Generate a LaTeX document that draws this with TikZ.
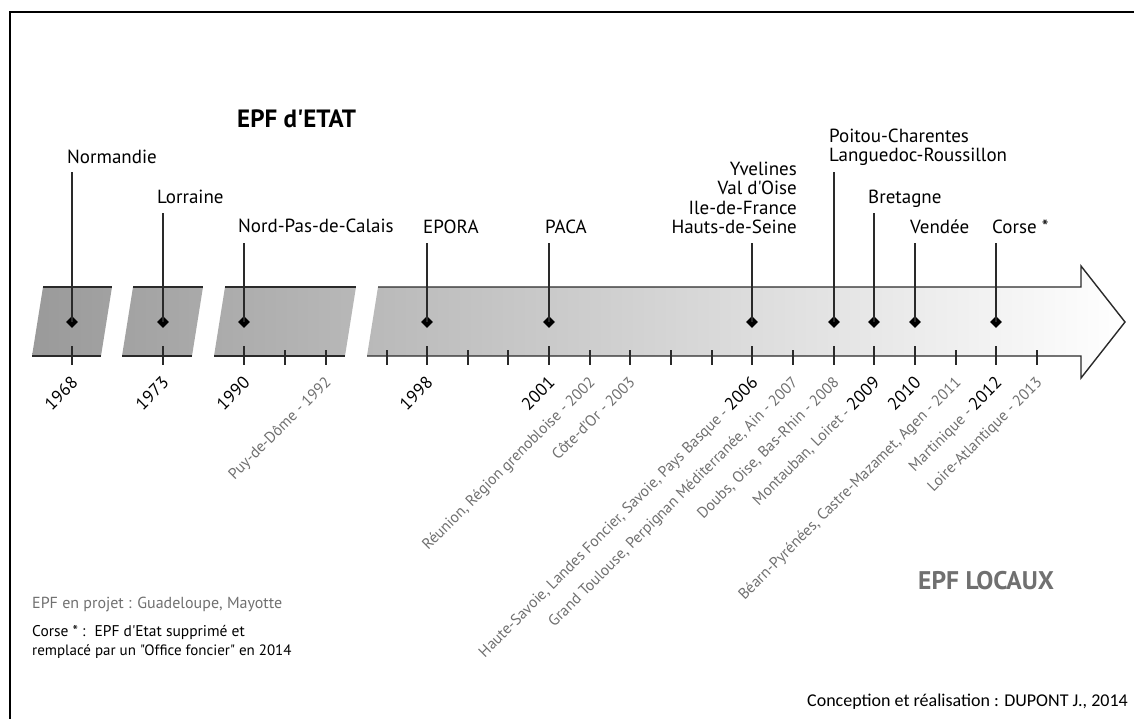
\documentclass[tikz,border=0pt]{standalone}
\usepackage{fontspec}
\setmainfont{PT Sans}[Ligatures=TeXOff]
\newfontfamily\credfont{Carlito}[Ligatures=TeXOff]
\usetikzlibrary{shapes.geometric}
\definecolor{lgray}{HTML}{707070}
\definecolor{lineg}{HTML}{2A2A2A}
\definecolor{bandleft}{HTML}{9A9A9A}
\newcommand{\bigyr}[1]{{\color{black}\fontsize{17.5}{18}\selectfont #1}}
\begin{document}
\begin{tikzpicture}[x=1pt,y=-1pt,
 evlabel/.style={anchor=base west, inner sep=0, font=\fontsize{19}{20}\selectfont},
 evlabelr/.style={anchor=base east, inner sep=0, font=\fontsize{19}{20}\selectfont},
 yearlabel/.style={rotate=45, anchor=base east, inner sep=0, font=\fontsize{15.5}{16}\selectfont, text=lgray},
 evdot/.style={diamond, fill=black, inner sep=0, minimum width=12pt, minimum height=12pt},
 stem/.style={line width=1.3pt, draw=lineg},
 majtick/.style={line width=2.2pt, draw=lineg},
 mintick/.style={line width=1.1pt, draw=lineg},
 bandline/.style={line width=1.4pt, draw=lineg, line join=miter},
]
\useasboundingbox (0,0) rectangle (1134,718);
% frame
\draw[line width=2.6pt] (10,720) -- (10,12) -- (1136,12);

% band fill
\begin{scope}
\clip (43,287) -- (112,287) -- (101,356) -- (32,356) -- cycle
      (133,287) -- (203,287) -- (192,356) -- (122,356) -- cycle
      (225,287) -- (356,287) -- (345,356) -- (214,356) -- cycle
      (378,287) -- (1081,287) -- (1081,266) -- (1125,322) -- (1081,378) -- (1081,356) -- (367,356) -- cycle;
\shade[left color=bandleft, right color=white] (32,260) rectangle (1125,385);
\end{scope}
% band outlines
\draw[bandline] (43,287) -- (112,287) (32,356) -- (101,356);
\draw[bandline] (133,287) -- (203,287) (122,356) -- (192,356);
\draw[bandline] (225,287) -- (356,287) (214,356) -- (345,356);
\draw[bandline] (378,287) -- (1081,287) -- (1081,266) -- (1125,322) -- (1081,378) -- (1081,356) -- (367,356);

% ticks
\foreach \x in {72,163,244,427,549,752,834,874,915,996}
  \draw[majtick] (\x,346) -- (\x,365);
\foreach \x in {285,326,387,468,508,590,630,671,712,793,956,1037}
  \draw[mintick] (\x,350) -- (\x,365);

% titles
\node[anchor=base west, inner sep=0, font=\bfseries\fontsize{25}{26}\selectfont] (etat) at (237,127) {EPF d'ETAT};
\node[anchor=base west, inner sep=0, font=\bfseries\fontsize{25.5}{26}\selectfont, text=lgray] (locaux) at (918,589) {EPF LOCAUX};

% event labels
\node[evlabel] (normandie) at (67,163) {Normandie};
\node[evlabel] (lorraine) at (157,203) {Lorraine};
\node[evlabel] (nord) at (238,232) {Nord-Pas-de-Calais};
\node[evlabel] (epora) at (423,233) {EPORA};
\node[evlabel] (paca) at (545,233) {PACA};
\node[evlabelr] (yvelines) at (797,175) {Yvelines};
\node[evlabelr] (valoise) at (797,194.5) {Val d'Oise};
\node[evlabelr] (idf) at (797,214) {Ile-de-France};
\node[evlabelr] (hauts) at (797,233) {Hauts-de-Seine};
\node[evlabel] (poitou) at (829,142) {Poitou-Charentes};
\node[evlabel] (languedoc) at (829,161) {Languedoc-Roussillon};
\node[evlabel] (bretagne) at (868,203) {Bretagne};
\node[evlabel] (vendee) at (910,233) {Vendée};
\node[evlabel] (corse) at (992,233) {Corse *};

% stems and markers
\foreach \n/\x/\t in {68/72/172, 73/163/213, 90/244/243, 98/427/243, 01/549/243, 06/752/243, 08/834/172, 09/874/213, 10/915/243, 12/996/243}{
  \coordinate (top\n) at (\x,\t);
  \node[evdot] (dot\n) at (\x,322) {};
  \draw[stem] (top\n) -- (dot\n.center);
}

% year labels
\node[yearlabel] (y1968) at (79,384) {\bigyr{1968}};
\node[yearlabel] (y1973) at (170,384) {\bigyr{1973}};
\node[yearlabel] (y1990) at (251,384) {\bigyr{1990}};
\node[yearlabel] (y1992) at (332,383) {Puy-de-Dôme - 1992};
\node[yearlabel] (y1998) at (434,384) {\bigyr{1998}};
\node[yearlabel] (y2001) at (556,384) {\bigyr{2001}};
\node[yearlabel] (y2002) at (596,383) {Réunion, Région grenobloise - 2002};
\node[yearlabel] (y2003) at (636,383) {Côte-d'Or - 2003};
\node[yearlabel] (y2006) at (759,384) {Haute-Savoie, Landes Foncier, Savoie, Pays Basque - \bigyr{2006}};
\node[yearlabel] (y2007) at (799,383) {Grand Toulouse, Perpignan Méditerranée, Ain - 2007};
\node[yearlabel] (y2008) at (840,383) {Doubs, Oise, Bas-Rhin - 2008};
\node[yearlabel] (y2009) at (881,384) {Montauban, Loiret - \bigyr{2009}};
\node[yearlabel] (y2010) at (922,384) {\bigyr{2010}};
\node[yearlabel] (y2011) at (962,383) {Béarn-Pyrénées, Castre-Mazamet, Agen - 2011};
\node[yearlabel] (y2012) at (1003,384) {Martinique - \bigyr{2012}};
\node[yearlabel] (y2013) at (1043,383) {Loire-Atlantique - 2013};

% notes
\node[anchor=base west, inner sep=0, font=\fontsize{16}{17}\selectfont, text=lgray] (projet) at (32,608) {EPF en projet : Guadeloupe, Mayotte};
\node[anchor=base west, inner sep=0, font=\fontsize{15.5}{17}\selectfont] (corsenote1) at (32,636) {Corse * :\hspace{9pt}EPF d'Etat supprimé et};
\node[anchor=base west, inner sep=0, font=\fontsize{15}{17}\selectfont] (corsenote2) at (32,655) {remplacé par un "Office foncier" en 2014};
\node[anchor=base east, inner sep=0, font=\credfont\fontsize{18}{20}\selectfont] (credit) at (1128,706) {Conception et réalisation : DUPONT J., 2014};
\end{tikzpicture}
\end{document}
